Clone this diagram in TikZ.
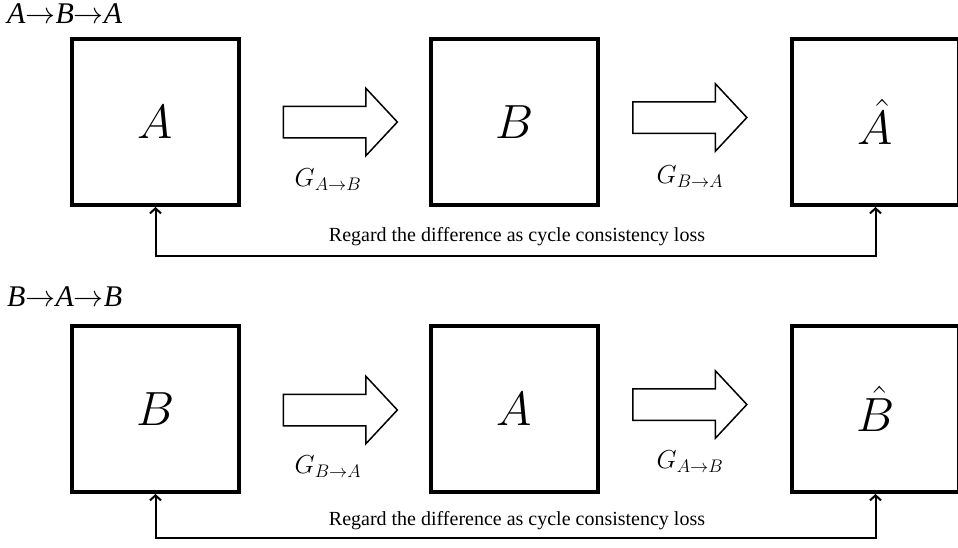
\RequirePackage{fix-cm}
\documentclass[tikz,border=0pt]{standalone}
\usepackage{fontspec}
\setmainfont{Liberation Serif}
\usetikzlibrary{shapes.arrows,arrows.meta}
\begin{document}
\begin{tikzpicture}[x=1pt,y=-1pt,
  imgbox/.style={draw,line width=4pt,minimum width=167pt,minimum height=166pt,inner sep=0pt,font=\fontsize{48}{48}\selectfont},
  hollowarrow/.style={single arrow,draw,line width=1.5pt,inner xsep=0pt,inner ysep=15pt,minimum height=114pt,single arrow head extend=18pt,single arrow tip angle=94},
  glabel/.style={font=\fontsize{26}{26}\selectfont},
  rowlabel/.style={anchor=base west,font=\fontsize{30}{30}\selectfont,inner sep=0pt},
  losstext/.style={font=\fontsize{20}{20}\selectfont},
  lossline/.style={line width=2pt,{Straight Barb[length=5pt,width=11pt,line width=2pt]}-{Straight Barb[length=5pt,width=11pt,line width=2pt]}}
]
\useasboundingbox (0,0) rectangle (958,547);
\clip (0,0) rectangle (958,547);
% row 1
\node[rowlabel] (l1) at (7,23) {\textit{A}$\rightarrow$\textit{B}$\rightarrow$\textit{A}};
\node[imgbox] (a1) at (155.5,122) {$A$};
\node[imgbox] (b1) at (514.5,122) {$B$};
\node[imgbox] (c1) at (875.5,122) {$\hat{A}$};
\node[hollowarrow] (f1) at (333,122) {};
\node[hollowarrow] (g1) at (682.5,117.5) {};
\node[glabel] (t1) at (328,180) {$G_{A\rightarrow B}$};
\node[glabel] (u1) at (690,177) {$G_{B\rightarrow A}$};
\coordinate (p1) at (0,256);
\draw[lossline] (a1.south) -- (a1.south |- p1) -| (c1.south);
\node[losstext] (r1) at (517,237) {Regard the difference as cycle consistency loss};
% row 2
\node[rowlabel] (l2) at (7,306) {\textit{B}$\rightarrow$\textit{A}$\rightarrow$\textit{B}};
\node[imgbox] (a2) at (155.5,409) {$B$};
\node[imgbox] (b2) at (514.5,409) {$A$};
\node[imgbox] (c2) at (875.5,409) {$\hat{B}$};
\node[hollowarrow] (f2) at (333,410) {};
\node[hollowarrow] (g2) at (682.5,404.5) {};
\node[glabel] (t2) at (328,467) {$G_{B\rightarrow A}$};
\node[glabel] (u2) at (690,462) {$G_{A\rightarrow B}$};
\coordinate (p2) at (0,538);
\draw[lossline] (a2.south) -- (a2.south |- p2) -| (c2.south);
\node[losstext] (r2) at (517,521) {Regard the difference as cycle consistency loss};
\end{tikzpicture}
\end{document}
